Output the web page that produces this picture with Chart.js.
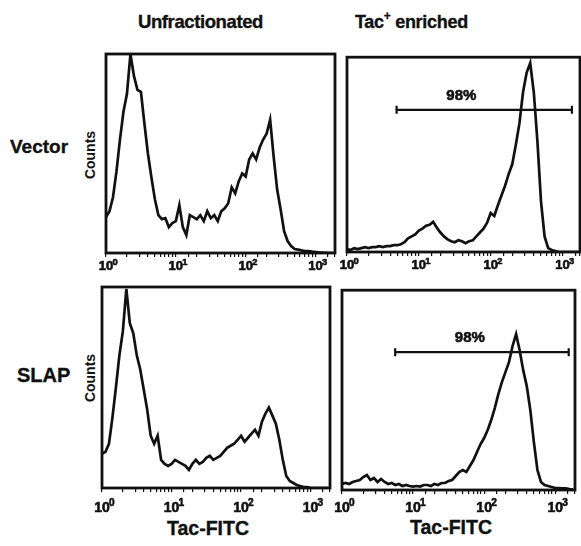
<!DOCTYPE html>
<html>
<head>
<meta charset="utf-8">
<script src="https://cdn.jsdelivr.net/npm/chart.js@4.4.1/dist/chart.umd.min.js"></script>
<style>
  html, body { margin: 0; padding: 0; background: #fff; }
  body { width: 581px; height: 546px; position: relative; overflow: hidden;
         font-family: "Liberation Sans", Arial, sans-serif; font-weight: bold; color: #111; }
  canvas { position: absolute; }
  .lbl { position: absolute; white-space: nowrap; line-height: 1; -webkit-text-stroke: 0.35px #111; }
  .counts { position: absolute; width: 60px; height: 14px; font-size: 14px; line-height: 14px;
            text-align: center; transform: rotate(-90deg); }
  sup { font-size: 12px; vertical-align: 0; position: relative; top: -8px; }
</style>
</head>
<body>
<div class="lbl" style="left:138px;top:13px;font-size:18.5px;letter-spacing:-0.4px">Unfractionated</div>
<div class="lbl" style="left:355px;top:13px;font-size:18px;letter-spacing:-0.3px">Tac<sup>+</sup> enriched</div>
<div class="lbl" style="left:10px;top:137px;font-size:19px">Vector</div>
<div class="lbl" style="left:17px;top:365px;font-size:20px">SLAP</div>
<div class="counts" style="left:60px;top:148px">Counts</div>
<div class="counts" style="left:60px;top:371px">Counts</div>
<div class="lbl" style="left:167px;top:519px;font-size:19.5px">Tac-FITC</div>
<div class="lbl" style="left:410px;top:518px;font-size:19.5px">Tac-FITC</div>

<script>
// log10 of the fluorescence channel (x positions of the histogram points)
const channels = [0, 0.05, 0.1, 0.15, 0.2, 0.25, 0.3, 0.35, 0.4, 0.45,
  0.5, 0.55, 0.6, 0.65, 0.7, 0.75, 0.8, 0.85, 0.9, 0.95,
  1, 1.05, 1.1, 1.15, 1.2, 1.25, 1.3, 1.35, 1.4, 1.45,
  1.5, 1.55, 1.6, 1.65, 1.7, 1.75, 1.8, 1.85, 1.9, 1.95,
  2, 2.05, 2.1, 2.15, 2.2, 2.25, 2.3, 2.35, 2.4, 2.45,
  2.5, 2.55, 2.6, 2.65, 2.7, 2.75, 2.8, 2.85, 2.9, 2.95,
  3, 3.05, 3.1, 3.15, 3.2, 3.25];

// counts, as % of the panel height
const vectorUnf = [18, 21, 28, 41, 57, 71, 80, 100, 89, 82,
  81, 65, 50, 38, 27, 19, 17, 17.5, 13, 15,
  16, 24, 13, 9, 19, 18, 17, 19, 16, 21,
  17.5, 19, 16, 21, 22.5, 25, 33, 30, 36, 40,
  38.5, 47, 50, 47, 53, 57, 60, 67, 48.5, 32,
  22, 11, 6, 3.5, 2, 1.7, 1.3, 1, 1, 0.7,
  0.5, 0.3, 0.2, 0.1, 0, 0];
const vectorTac = [1.5, 1, 2, 1.5, 2, 2.5, 2, 2.5, 2.5, 3,
  2.5, 3, 3, 3.5, 3.5, 4, 5, 7, 8, 9,
  11, 12, 13.5, 14, 15.5, 12.5, 10, 8, 6.5, 5.5,
  5, 6, 5.5, 4.5, 5.5, 6, 8, 10, 12, 15,
  20, 18.5, 24, 29, 34, 40, 45, 55, 66, 82,
  92, 97, 82, 57, 26, 8, 2, 1, 0.5, 0,
  0, 0, 0, 0, 0, 0];
const slapUnf = [17, 18, 22, 35, 50, 66, 78, 99, 82, 77,
  66, 59, 49, 39, 26, 22, 26, 14, 12, 11,
  12, 14, 13, 12, 11, 9, 12, 14, 12, 13,
  15, 16, 14, 15, 16, 18, 20, 21, 22, 24,
  26, 23, 25, 27, 29, 26, 33, 37, 40, 36,
  32, 24, 14, 6, 3.5, 2.5, 1.5, 1, 0.5, 0.5,
  0, 0, 0, 0, 0, 0];
const slapTac = [3, 3.5, 3, 4, 4.5, 5, 6.5, 7.5, 5, 6,
  4, 5.5, 4, 3, 3.5, 2.5, 3, 2, 2.5, 2,
  1.7, 2, 1.7, 2.5, 2.5, 2, 3, 2.5, 3.5, 3.5,
  4.5, 5, 7, 9, 10, 9, 12, 15, 19, 23,
  26, 30, 35, 41, 48, 54, 59, 64, 72, 78,
  70, 60, 52, 40, 24, 10, 4, 2.5, 2, 1.5,
  1, 1, 0.8, 0.8, 0.5, 0.3];

// gated region (Tac-FITC range), bar height and gate text
const gateRanges = [[4.9, 1350], [5.6, 1550]];
const gateLevels = [73, 69];
const gateTexts = ['98%', '98%'];

const decades = [0, 1, 2, 3];

const PAD = 14, PADT = 4, AXIS_H = 34;
const FONT = '"Liberation Sans", Arial, sans-serif';

const panels = [
  { box: [106, 54, 229, 199], series: vectorUnf, max: 1900, tickSize: 13, tickOff: 17 },
  { box: [347, 55, 233, 197], series: vectorTac, max: 1750, tickSize: 13, tickOff: 17,
    gate: 0, textAt: [39, 80] },
  { box: [102, 287, 228, 201], series: slapUnf, max: 1900, tickSize: 14, tickOff: 24 },
  { box: [342, 288, 233, 202], series: slapTac, max: 1900, tickSize: 14, tickOff: 22,
    gate: 1, textAt: [63, 76] }
];

const boxPlugin = {
  id: 'box',
  afterDraw(chart) {
    const { ctx, chartArea: a } = chart;
    ctx.save();
    ctx.strokeStyle = '#111';
    ctx.lineWidth = 2.8;
    ctx.strokeRect(a.left, a.top, a.right - a.left, a.bottom - a.top);
    ctx.restore();
  }
};

// draw text a little heavier, like the scanned figure
function heavyText(ctx, txt, x, y) {
  ctx.fillText(txt, x, y);
  ctx.lineWidth = 0.6;
  ctx.strokeStyle = '#111';
  ctx.strokeText(txt, x, y);
}

const tickLabelPlugin = {
  id: 'tickLabels',
  afterDraw(chart, args, opts) {
    const { ctx, chartArea, scales: { x } } = chart;
    const base = chartArea.bottom + opts.offset;
    ctx.save();
    ctx.fillStyle = '#111';
    ctx.textBaseline = 'alphabetic';
    decades.forEach(n => {
      const px = x.getPixelForValue(Math.pow(10, n));
      ctx.font = 'bold ' + opts.size + 'px ' + FONT;
      ctx.textAlign = 'center';
      heavyText(ctx, '10', px, base);
      ctx.font = 'bold ' + (opts.size * 0.72) + 'px ' + FONT;
      ctx.textAlign = 'left';
      heavyText(ctx, String(n), px + opts.size * 0.5, base - opts.size * 0.42);
    });
    ctx.restore();
  }
};

const gateTextPlugin = {
  id: 'gateText',
  afterDraw(chart, args, opts) {
    if (!opts.text) return;
    const { ctx, scales: { x, y } } = chart;
    ctx.save();
    ctx.fillStyle = '#111';
    ctx.font = 'bold 15px ' + FONT;
    ctx.textAlign = 'center';
    ctx.textBaseline = 'middle';
    heavyText(ctx, opts.text, x.getPixelForValue(opts.at[0]), y.getPixelForValue(opts.at[1]));
    ctx.restore();
  }
};

panels.forEach(p => {
  const [bx, by, bw, bh] = p.box;
  const canvas = document.createElement('canvas');
  canvas.width = bw + PAD * 2;
  canvas.height = bh + PADT + AXIS_H;
  canvas.style.left = (bx - PAD) + 'px';
  canvas.style.top = (by - PADT) + 'px';
  document.body.appendChild(canvas);

  const datasets = [{
    data: channels.map((d, i) => ({ x: Math.pow(10, d), y: p.series[i] })),
    borderColor: '#111',
    borderWidth: 2.7,
    pointRadius: 0,
    tension: 0,
    fill: false
  }];
  if (p.gate !== undefined) {
    const g = gateRanges[p.gate];
    datasets.push({
      data: [{ x: g[0], y: gateLevels[p.gate] }, { x: g[1], y: gateLevels[p.gate] }],
      borderColor: '#111',
      borderWidth: 2.2,
      pointStyle: 'line',
      pointRotation: 90,
      pointRadius: 4,
      pointBorderWidth: 2.2,
      pointBorderColor: '#111'
    });
  }

  new Chart(canvas, {
    type: 'line',
    data: { datasets },
    options: {
      responsive: false,
      animation: false,
      events: [],
      layout: { padding: { left: PAD, right: PAD, top: PADT, bottom: 0 } },
      plugins: {
        legend: { display: false },
        tooltip: { enabled: false },
        tickLabels: { size: p.tickSize, offset: p.tickOff },
        gateText: p.gate !== undefined ? { text: gateTexts[p.gate], at: p.textAt } : { text: null }
      },
      scales: {
        x: {
          type: 'logarithmic',
          min: 1,
          max: p.max,
          afterFit: s => { s.height = AXIS_H; },
          ticks: { display: false },
          grid: { drawOnChartArea: false, drawTicks: true, tickLength: 4, color: '#111', lineWidth: 1.2 },
          border: { display: false }
        },
        y: { display: false, min: 0, max: 100 }
      }
    },
    plugins: [boxPlugin, tickLabelPlugin, gateTextPlugin]
  });
});
</script>
</body>
</html>
